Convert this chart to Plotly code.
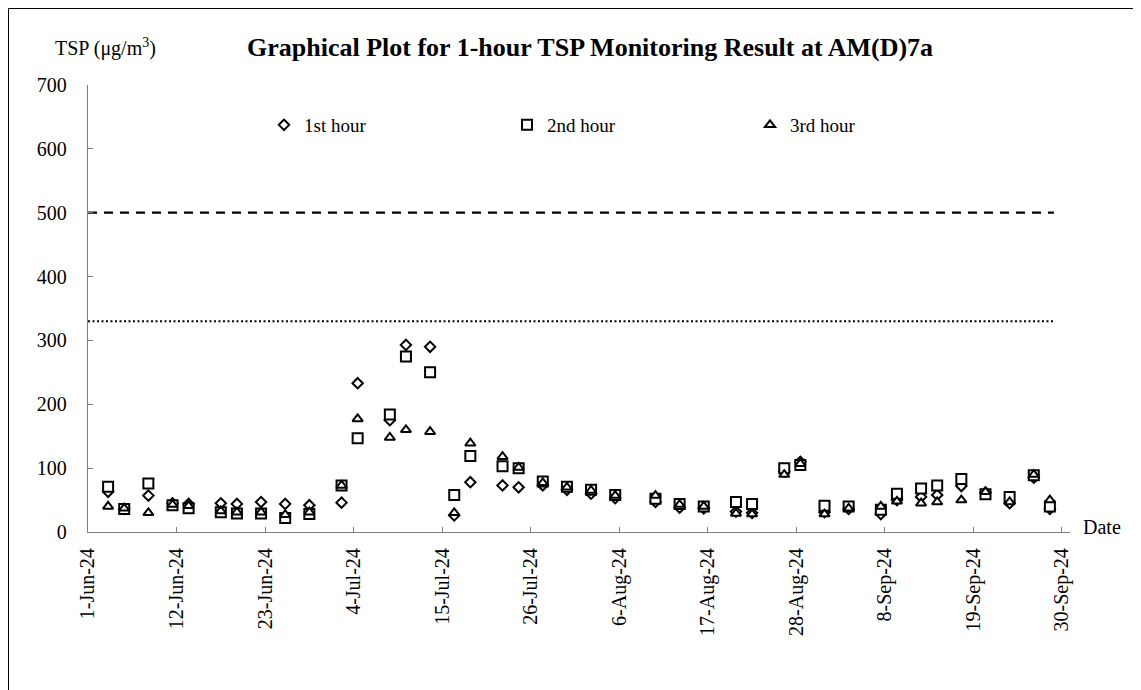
import plotly.graph_objects as go

# ---- data ----
dates = ["2024-06-03", "2024-06-05", "2024-06-08", "2024-06-11", "2024-06-13",
         "2024-06-17", "2024-06-19", "2024-06-22", "2024-06-25", "2024-06-28",
         "2024-07-02", "2024-07-04", "2024-07-08", "2024-07-10", "2024-07-13",
         "2024-07-16", "2024-07-18", "2024-07-22", "2024-07-24", "2024-07-27",
         "2024-07-30", "2024-08-02", "2024-08-05", "2024-08-10", "2024-08-13",
         "2024-08-16", "2024-08-20", "2024-08-22", "2024-08-26", "2024-08-28",
         "2024-08-31", "2024-09-03", "2024-09-07", "2024-09-09", "2024-09-12",
         "2024-09-14", "2024-09-17", "2024-09-20", "2024-09-23", "2024-09-26",
         "2024-09-28"]
hour1 = [63, 36, 57, 45, 44, 45, 44, 47, 44, 42,
         46, 233, 175, 293, 290, 26, 78, 73, 70, 73,
         66, 60, 53, 47, 38, 37, 32, 30, 95, 110,
         31, 36, 28, 50, 55, 58, 72, 62, 45, 85, 36]
hour2 = [71, 36, 76, 42, 37, 31, 29, 29, 22, 28,
         73, 147, 184, 275, 250, 58, 119, 103, 100, 79,
         71, 66, 58, 52, 44, 40, 47, 44, 100, 105,
         41, 40, 35, 60, 68, 73, 83, 59, 55, 89, 40]
hour3 = [40, 37, 30, 43, 41, 33, 31, 31, 27, 31,
         73, 177, 148, 160, 157, 30, 139, 118, 101, 77,
         70, 65, 57, 57, 43, 40, 29, 28, 90, 107,
         28, 37, 40, 48, 45, 47, 50, 63, 47, 90, 50]
series_names = ["1st hour", "2nd hour", "3rd hour"]
level_dates = ["2024-06-01", "2024-09-29"]
limit_level = [500, 500]
action_level = [330, 330]
x_range = ["2024-06-01", "2024-10-01"]
y_ticks = [0, 100, 200, 300, 400, 500, 600, 700]

FONT = "Liberation Serif"
x_vals = [d + " 12:00" for d in dates]

fig = go.Figure()

fig.add_trace(go.Scatter(x=level_dates, y=limit_level, mode="lines",
                         line=dict(color="black", width=2.2, dash="9px,7px"),
                         showlegend=False, hoverinfo="skip"))
fig.add_trace(go.Scatter(x=level_dates, y=action_level, mode="lines",
                         line=dict(color="black", width=2, dash="2px,2.5px"),
                         showlegend=False, hoverinfo="skip"))

styles = [("diamond", 8), ("square", 10), ("triangle-up", 9)]
for name, vals, (sym, sz) in zip(series_names, [hour1, hour2, hour3], styles):
    fig.add_trace(go.Scatter(
        x=x_vals, y=vals, mode="markers", name=name,
        marker=dict(symbol=sym, size=sz, color="white",
                    line=dict(color="black", width=2)),
    ))

# page is shown with an 8px body offset; positions below are given in
# screen pixels and converted to figure coordinates
OFF = 8
W, H = 1141, 690
L, R, T, B = 88 - OFF, 1070 - OFF, 85 - OFF, 532 - OFF
def px(x):
    return (x - OFF - L) / (R - L)
def py(y):
    return (B - (y - OFF)) / (B - T)

fig.update_layout(
    width=W, height=H,
    margin=dict(l=L, r=W - R, t=T, b=H - B),
    paper_bgcolor="white", plot_bgcolor="white",
    font=dict(family=FONT, color="black", size=18),
    showlegend=True,
    legend=dict(orientation="h", x=px(264), xanchor="left", y=py(125), yanchor="middle",
                entrywidth=198, entrywidthmode="pixels",
                font=dict(family=FONT, size=19, color="black"),
                bgcolor="rgba(0,0,0,0)"),
    xaxis=dict(type="date", range=x_range, tick0="2024-06-01", dtick=11 * 86400000,
               tickformat="%-d-%b-%y", tickangle=-90, ticks="inside", ticklen=5,
               tickcolor="#808080", showline=True, linecolor="#808080", linewidth=1.3,
               showgrid=False, zeroline=False, ticklabelstandoff=7,
               tickfont=dict(family=FONT, size=20, color="black")),
    yaxis=dict(range=[0, 700], tickvals=y_ticks, ticks="inside", ticklen=5,
               tickcolor="#808080", showline=True, linecolor="#808080", linewidth=1.3,
               showgrid=False, zeroline=False, ticklabelstandoff=16,
               tickfont=dict(family=FONT, size=20, color="black")),
    shapes=[dict(type="rect", xref="paper", yref="paper",
                 x0=px(8.5), x1=px(1300), y0=py(900), y1=py(8.5),
                 line=dict(color="black", width=1), fillcolor="rgba(0,0,0,0)", layer="below")],
    annotations=[
        dict(text="<b>Graphical Plot for 1-hour TSP Monitoring Result at AM(D)7a</b>",
             xref="paper", yref="paper", x=px(590), y=py(47), xanchor="center", yanchor="middle",
             showarrow=False, font=dict(family=FONT, size=26, color="black")),
        dict(text="TSP (μg/m<sup>3</sup>)", xref="paper", yref="paper",
             x=px(105), y=py(47), xanchor="center", yanchor="middle",
             showarrow=False, font=dict(family=FONT, size=20, color="black")),
        dict(text="Date", xref="paper", yref="paper", x=px(1081), y=py(527),
             xanchor="left", yanchor="middle", showarrow=False,
             font=dict(family=FONT, size=20, color="black")),
    ],
)

fig.write_html("out.html")
